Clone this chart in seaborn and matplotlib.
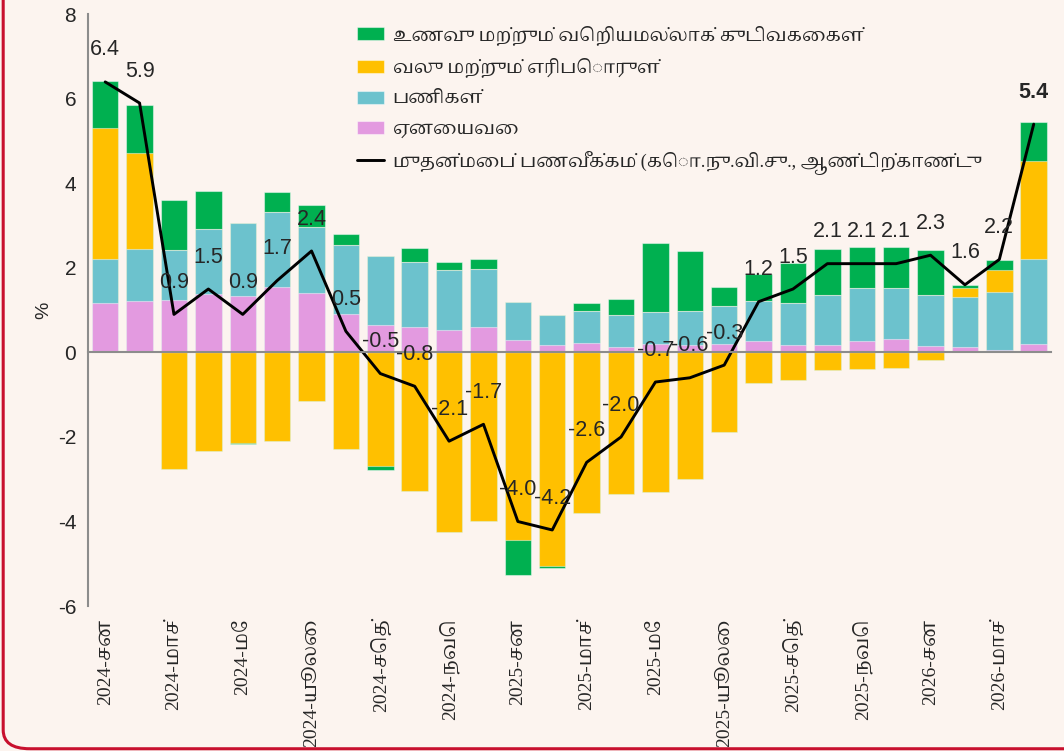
import numpy as np
import pandas as pd
import seaborn as sns
import matplotlib.pyplot as plt
from matplotlib.patches import FancyBboxPatch

# CCPI contributions, y-o-y (%)

years = [2024] * 12 + [2025] * 12 + [2026] * 4
month_names = ['சன', 'பெப்', 'மாச்', 'ஏப்', 'மே', 'யூன்', 'யூலை', 'ஓக', 'செத்', 'ஒக்', 'நவெ', 'டிச']
months = month_names * 2 + month_names[:4]
periods = [f"{y}-{m}" for y, m in zip(years, months)]

others = [1.16, 1.22, 1.25, 1.39, 1.33, 1.54, 1.41, 0.92, 0.66, 0.60, 0.54, 0.60, 0.29, 0.17,
          0.22, 0.13, 0.20, 0.17, 0.21, 0.27, 0.17, 0.18, 0.26, 0.31, 0.16, 0.12, 0.05, 0.19]
services = [1.06, 1.23, 1.17, 1.52, 1.73, 1.78, 1.56, 1.61, 1.63, 1.53, 1.42, 1.37, 0.90, 0.71,
            0.77, 0.75, 0.76, 0.81, 0.89, 0.94, 1.00, 1.17, 1.26, 1.22, 1.21, 1.18, 1.39, 2.01]
energy = [3.09, 2.26, -2.76, -2.34, -2.14, -2.10, -1.14, -2.29, -2.68, -3.27, -4.24, -3.98, -4.43, -5.06,
          -3.80, -3.35, -3.31, -3.00, -1.89, -0.73, -0.66, -0.42, -0.39, -0.38, -0.17, 0.22, 0.51, 2.32]
food = [1.10, 1.14, 1.19, 0.92, -0.02, 0.47, 0.51, 0.26, -0.11, 0.33, 0.19, 0.23, -0.83, -0.04,
        0.19, 0.39, 1.64, 1.43, 0.45, 0.64, 0.94, 1.10, 0.97, 0.96, 1.06, 0.08, 0.23, 0.92]
headline = [6.4, 5.9, 0.9, 1.5, 0.9, 1.7, 2.4, 0.5, -0.5, -0.8, -2.1, -1.7, -4.0, -4.2,
            -2.6, -2.0, -0.7, -0.6, -0.3, 1.2, 1.5, 2.1, 2.1, 2.1, 2.3, 1.6, 2.2, 5.4]

layer_names = ['ஏனையவை', 'பணிகள்', 'வலு மற்றும் எரிபொருள்', 'உணவு மற்றும் வெறியமல்லாக் குடிவகைகள்']
layer_colors = ['#E39AE0', '#6CC2CD', '#FFC000', '#00B050']
line_name = 'முதன்மைப் பணவீக்கம் (கொ.நு.வி.சு., ஆண்டிற்காண்டு'

bg = '#FCF4EF'
grey = '#8C8C8C'
tamil_sans = ['Liberation Sans', 'Noto Sans Tamil', 'Lohit Tamil', 'DejaVu Sans']
tamil_serif = ['Liberation Serif', 'Noto Serif Tamil', 'Noto Sans Tamil', 'Lohit Tamil', 'DejaVu Sans']

sns.set_style('white')
plt.rcParams['font.family'] = tamil_sans

# stack positives upward and negatives downward
vals = np.array([others, services, energy, food])
pos_cum = np.cumsum(np.clip(vals, 0, None), axis=0)
neg_cum = np.cumsum(np.clip(vals, None, 0), axis=0)

df = pd.DataFrame({'period': periods, 'pos': range(len(periods)), 'headline': headline})

fig = plt.figure(figsize=(10.64, 7.51), dpi=100, facecolor=bg)
ax = fig.add_axes([0.0827, 0.193, 0.905, 0.788], facecolor=bg)

# outer layers first, inner ones painted over them
for i in reversed(range(4)):
    sns.barplot(x=df['period'], y=pos_cum[i], color=layer_colors[i], saturation=1, width=0.77,
                edgecolor=(1, 1, 1, 0.45), linewidth=0.8, label=layer_names[i], ax=ax)
    sns.barplot(x=df['period'], y=neg_cum[i], color=layer_colors[i], saturation=1, width=0.77,
                edgecolor=(1, 1, 1, 0.45), linewidth=0.8, ax=ax)

sns.lineplot(data=df, x='pos', y='headline', color='black', linewidth=2.1, label=line_name, ax=ax)

for x, v in zip(df['pos'], headline):
    last = x == len(headline) - 1
    ax.annotate(f"{v:.1f}", (x, v), xytext=(0, 23), textcoords='offset points',
                ha='center', va='center', fontsize=15.5, fontweight='bold' if last else 'normal')

ax.set_xlim(-0.5, len(periods) - 0.5)
ax.set_ylim(-6, 8)
ax.set_yticks(range(-6, 9, 2))
ax.set_yticklabels([str(t) for t in range(-6, 9, 2)], fontsize=15)
ax.set_ylabel('%', fontsize=14)
ax.set_xlabel('')

# zero axis with tick marks between every second month
ax.spines['bottom'].set_position(('data', 0))
ax.spines['top'].set_visible(False)
ax.spines['right'].set_visible(False)
for s in ['left', 'bottom']:
    ax.spines[s].set_color(grey)
    ax.spines[s].set_linewidth(1.5)
ax.set_xticks(np.arange(-0.5, len(periods), 2))
ax.set_xticklabels([])
ax.tick_params(axis='both', direction='out', length=5, width=1.5, color=grey)

# month labels along the bottom of the plot
sec = ax.secondary_xaxis('bottom')
sec.set_xticks(range(0, len(periods), 2))
sec.set_xticklabels(periods[::2], rotation=90, fontsize=14, family=tamil_serif)
sec.tick_params(length=0, pad=9)
sec.spines['bottom'].set_visible(False)

handles, labels = ax.get_legend_handles_labels()
handles = handles[1:] + handles[:1]
labels = labels[1:] + labels[:1]
ax.legend(handles, labels, loc='upper left', bbox_to_anchor=(0.262, 1.01), frameon=False,
          handlelength=1.5, handleheight=0.75, labelspacing=0.72, handletextpad=0.5,
          prop={'family': tamil_serif, 'size': 13})

fig.patches.append(FancyBboxPatch((0.003, 0.003), 1.5, 1.5, boxstyle='round,pad=0,rounding_size=0.025',
                                  transform=fig.transFigure, facecolor='none', edgecolor='#C8102E',
                                  linewidth=2.2))

fig.savefig('out.png', dpi=100, facecolor=bg)
